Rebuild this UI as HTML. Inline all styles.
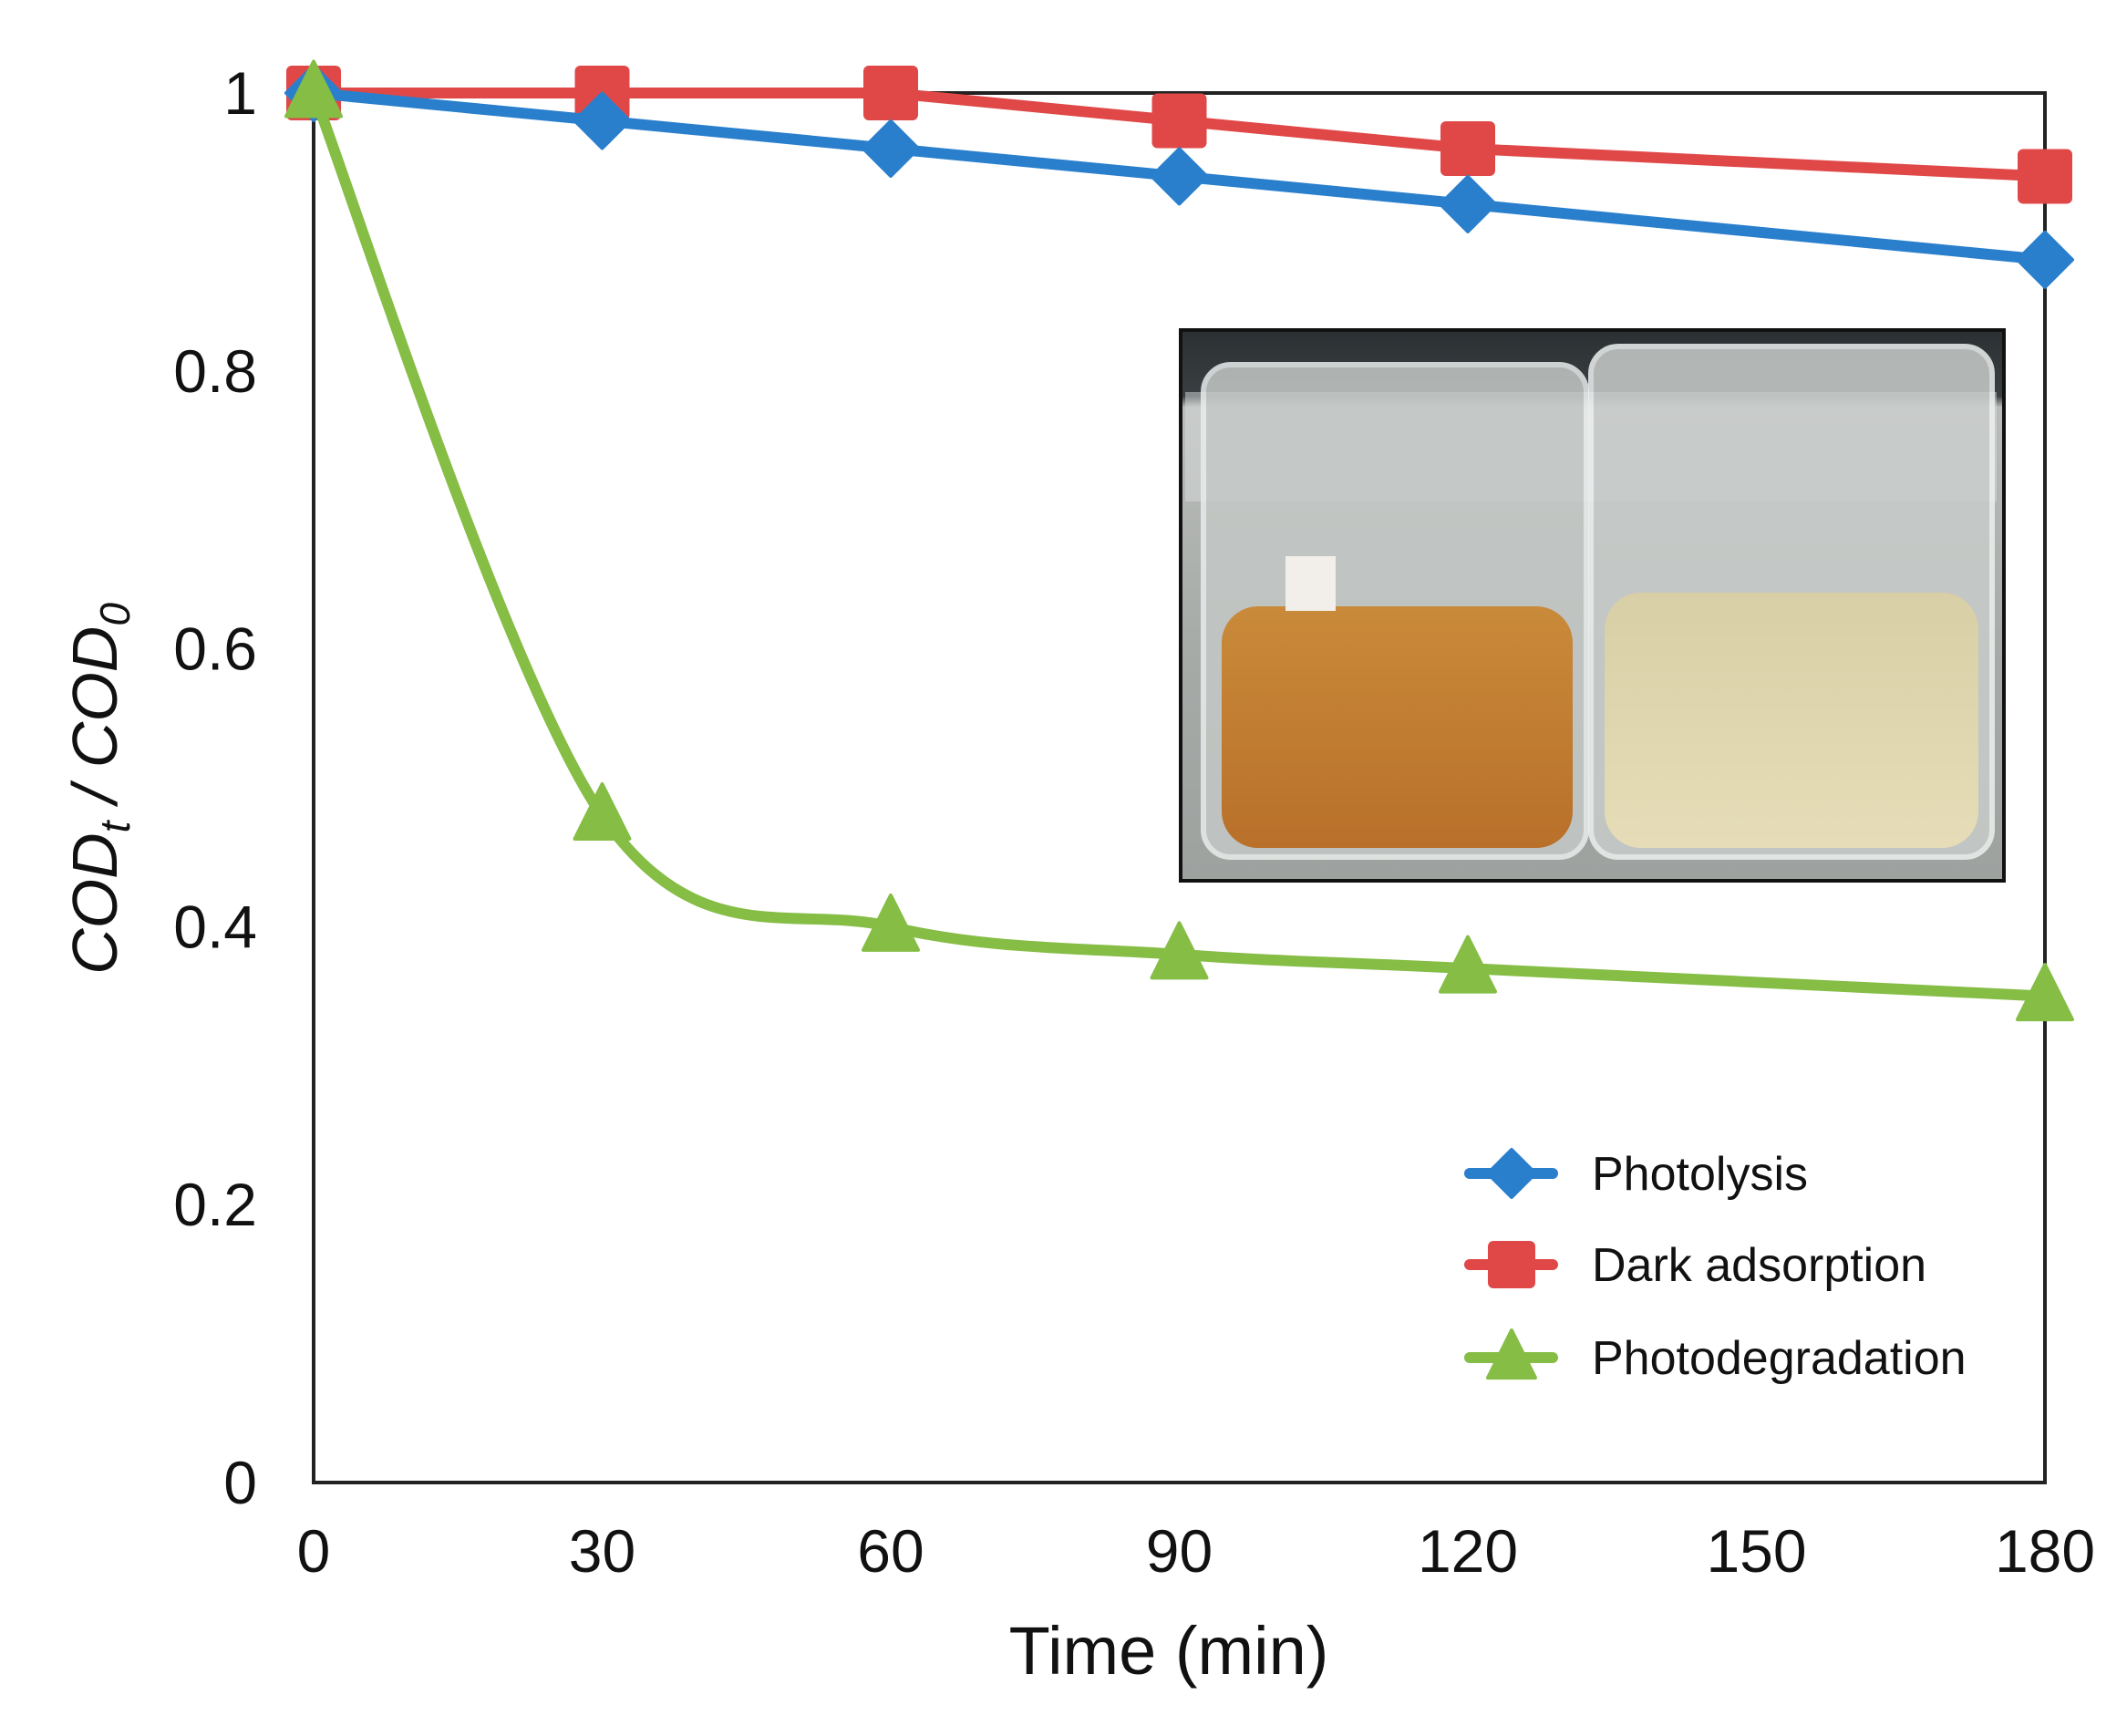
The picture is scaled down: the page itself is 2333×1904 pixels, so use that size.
<!DOCTYPE html>
<html><head><meta charset="utf-8"><style>
html,body{margin:0;padding:0;background:#fff}
svg{display:block}
text{font-family:"Liberation Sans",Arial,sans-serif;fill:#111}
</style></head><body>
<svg id="chart" width="2333" height="1904" viewBox="0 0 2333 1904" xmlns="http://www.w3.org/2000/svg">
<defs>
<linearGradient id="bg" x1="0" y1="0" x2="0" y2="1">
<stop offset="0" stop-color="#2b3033"/><stop offset="0.12" stop-color="#3a3f42"/><stop offset="0.14" stop-color="#b9bcb9"/><stop offset="0.6" stop-color="#a6aaa7"/><stop offset="1" stop-color="#9ea29f"/>
</linearGradient>
<linearGradient id="orange" x1="0" y1="0" x2="0" y2="1"><stop offset="0" stop-color="#c98a3a"/><stop offset="1" stop-color="#b9702a"/></linearGradient>
<linearGradient id="pale" x1="0" y1="0" x2="0" y2="1"><stop offset="0" stop-color="#d8cfa6"/><stop offset="1" stop-color="#e6ddb8"/></linearGradient>
</defs>
<g id="inset">
<rect x="1295" y="362" width="903" height="604" fill="url(#bg)" stroke="#111" stroke-width="4"/>
<rect x="1300" y="430" width="890" height="120" fill="#d7dcdc" opacity="0.5"/>
<rect x="1320" y="400" width="420" height="540" rx="30" fill="#c4c8c6" stroke="#e8ecec" stroke-width="6" opacity="0.85"/>
<rect x="1745" y="380" width="440" height="560" rx="30" fill="#c8ccca" stroke="#eef0f0" stroke-width="6" opacity="0.85"/>
<rect x="1340" y="665" width="385" height="265" rx="40" fill="url(#orange)"/>
<rect x="1760" y="650" width="410" height="280" rx="40" fill="url(#pale)"/>
<rect x="1410" y="610" width="55" height="60" fill="#f2eeea"/>
</g>
<g id="frame"></g>
<g id="series"></g>
<g id="legend"></g>
</svg>
<script>
const xTicks=[0,30,60,90,120,150,180];
const yTicks=[0,0.2,0.4,0.6,0.8,1];
const yTickLabels=["0","0.2","0.4","0.6","0.8","1"];
const times=[0,30,60,90,120,180];
const photolysis=[1,0.98,0.96,0.94,0.92,0.88];
const darkAdsorption=[1,1,1,0.98,0.96,0.94];
const photodegradation=[1,0.48,0.40,0.38,0.37,0.35];
const seriesNames=["Photolysis","Dark adsorption","Photodegradation"];

const NS="http://www.w3.org/2000/svg";
const L=344,R=2243,T=102,B=1626;
const xs=v=>L+(v-0)/(180-0)*(R-L);
const ys=v=>B-(v-0)/(1-0)*(B-T);
function mk(tag,attrs,parent){const e=document.createElementNS(NS,tag);for(const k in attrs)e.setAttribute(k,attrs[k]);parent.appendChild(e);return e;}
const frame=document.getElementById('frame');
const plot=mk('rect',{x:L,y:T,width:R-L,height:B-T,fill:'none',stroke:'#222','stroke-width':4},frame);


xTicks.forEach(t=>{
 const e=mk('text',{x:xs(t),y:1724,'font-size':66,'text-anchor':'middle'},frame);e.textContent=t;
 
 
});
yTicks.forEach((t,i)=>{
 const e=mk('text',{x:282,y:ys(t)+23,'font-size':66,'text-anchor':'end'},frame);e.textContent=yTickLabels[i];
 
 
});
const xt=mk('text',{x:1282,y:1836,'font-size':74,'text-anchor':'middle'},frame);xt.textContent='Time (min)';


const yt=mk('text',{x:0,y:0,'font-size':70,'font-style':'italic','text-anchor':'middle',transform:'translate(128,865) rotate(-90)'},frame);
yt.innerHTML='COD<tspan font-size="46" dy="14">t</tspan><tspan dy="-14"> / COD</tspan><tspan font-size="46" dy="14">0</tspan>';



const sg=document.getElementById('series');
function marker(type,cx,cy,col,parent,sz){
 let e;
 if(type==='d') e=mk('polygon',{points:`${cx},${cy-sz} ${cx+sz},${cy} ${cx},${cy+sz} ${cx-sz},${cy}`,fill:col,'stroke-linejoin':'round',stroke:col,'stroke-width':4},parent);
 else if(type==='s') e=mk('rect',{x:cx-sz,y:cy-sz,width:2*sz,height:2*sz,rx:6,fill:col},parent);
 else e=mk('polygon',{points:`${cx},${cy-sz*1.15} ${cx+sz},${cy+sz*0.85} ${cx-sz},${cy+sz*0.85}`,fill:col,stroke:col,'stroke-width':4,'stroke-linejoin':'round'},parent);
 return e;
}
function smoothPath(pts){
 let d=`M${pts[0][0]},${pts[0][1]}`;
 for(let i=0;i<pts.length-1;i++){
  const p0=pts[Math.max(i-1,0)],p1=pts[i],p2=pts[i+1],p3=pts[Math.min(i+2,pts.length-1)];
  const k=(i===0)?10:6;
  const c1=[p1[0]+(p2[0]-p0[0])/k,p1[1]+(p2[1]-p0[1])/k];
  const c2=[p2[0]-(p3[0]-p1[0])/6,p2[1]-(p3[1]-p1[1])/6];
  d+=` C${c1[0]},${c1[1]} ${c2[0]},${c2[1]} ${p2[0]},${p2[1]}`;
 }
 return d;
}
const defs=[
 {vals:darkAdsorption,col:'#e04848',m:'s',smooth:false,name:'dark-adsorption',sz:30},
 {vals:photolysis,col:'#2a7fcc',m:'d',smooth:false,name:'photolysis',sz:30},
 {vals:photodegradation,col:'#85bd45',m:'t',smooth:true,name:'photodegradation',sz:30}
];
defs.forEach(s=>{
 const g=mk('g',{},sg);
 
 
 const pts=times.map((t,i)=>[xs(t),ys(s.vals[i])]);
 const d=s.smooth?smoothPath(pts):'M'+pts.map(p=>p.join(',')).join(' L');
 const ln=mk('path',{d:d,fill:'none',stroke:s.col,'stroke-width':12,'stroke-linejoin':'round','stroke-linecap':'round'},g);
 
 
 pts.forEach(p=>{
  const mm=marker(s.m,p[0],p[1],s.col,g,s.sz);
  
  
 });
});

const lg=document.getElementById('legend');
const legCols=['#2a7fcc','#e04848','#85bd45'];
const legM=['d','s','t'];
const legY=[1287,1387,1489];
seriesNames.forEach((n,i)=>{
 const g=mk('g',{},lg);
 
 
 mk('line',{x1:1612,y1:legY[i],x2:1703,y2:legY[i],stroke:legCols[i],'stroke-width':12,'stroke-linecap':'round'},g);
 marker(legM[i],1658,legY[i],legCols[i],g,26);
 const tx=mk('text',{x:1746,y:legY[i]+18,'font-size':52},g);tx.textContent=n;
 
 
});
</script>
</body></html>
